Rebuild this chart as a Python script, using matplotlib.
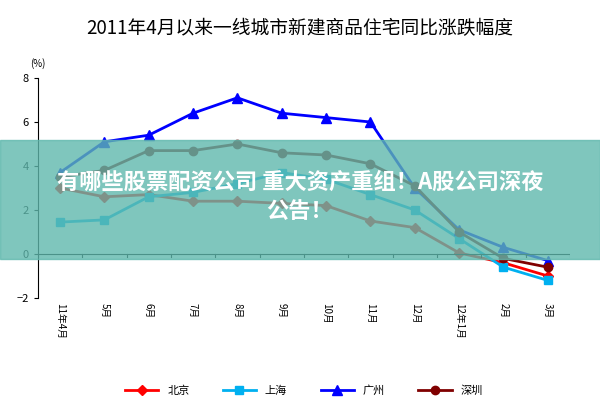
import matplotlib.pyplot as plt
from matplotlib.patches import Rectangle

plt.rcParams["font.family"] = ["Noto Sans CJK SC", "DejaVu Sans"]

months = ["11年4月", "5月", "6月", "7月", "8月", "9月", "10月", "11月", "12月", "12年1月", "2月", "3月"]
beijing = [3.0, 2.6, 2.7, 2.4, 2.4, 2.3, 2.2, 1.5, 1.2, 0.05, -0.4, -1.0]
shanghai = [1.45, 1.55, 2.6, 2.8, 3.2, 3.7, 3.4, 2.7, 2.0, 0.7, -0.6, -1.2]
guangzhou = [3.7, 5.1, 5.4, 6.4, 7.1, 6.4, 6.2, 6.0, 3.0, 1.1, 0.3, -0.3]
shenzhen = [3.5, 3.8, 4.7, 4.7, 5.0, 4.6, 4.5, 4.1, 3.1, 1.0, -0.2, -0.6]

fig = plt.figure(figsize=(6, 4), dpi=100)
ax = fig.add_axes([0.063, 0.255, 0.887, 0.55])
x = range(len(months))
ax.plot(x, beijing, color="#ff0000", marker="D", ms=5, lw=2, label="北京")
ax.plot(x, shanghai, color="#00b0f0", marker="s", ms=6, lw=2, label="上海")
ax.plot(x, guangzhou, color="#0000ff", marker="^", ms=7, lw=2, label="广州")
ax.plot(x, shenzhen, color="#800000", marker="o", ms=6, lw=2, label="深圳")

ax.set_ylim(-2, 8)
ax.set_yticks([-2, 0, 2, 4, 6, 8])
ax.set_xlim(-0.5, 11.5)
ax.set_xticks(list(x))
ax.set_xticklabels(months, rotation=270, fontsize=7)
ax.tick_params(axis="y", labelsize=8, length=3)
ax.tick_params(axis="x", length=0)
for s in ["top", "right", "bottom"]:
    ax.spines[s].set_visible(False)
ax.axhline(0, color="black", lw=0.8)
for i in range(13):
    ax.plot([i - 0.5, i - 0.5], [0, -0.12], color="black", lw=0.8)
ax.text(-0.5, 8.5, "(%)", fontsize=7, ha="center")

fig.suptitle("2011年4月以来一线城市新建商品住宅同比涨跌幅度", y=0.955, fontsize=13.5)
ax.legend(loc="upper center", bbox_to_anchor=(0.5, -0.35), ncol=4, frameon=False, fontsize=8,
          handlelength=3, columnspacing=3)

fig.patches.append(Rectangle((0, 0.352), 1, 0.297, transform=fig.transFigure,
                             color="#5fb8ad", alpha=0.8, zorder=10))
fig.text(0.5, 0.545, "有哪些股票配资公司 重大资产重组！A股公司深夜", ha="center", va="center",
         color="white", fontsize=16, fontweight="bold", zorder=11)
fig.text(0.5, 0.47, "公告！", ha="center", va="center", color="white",
         fontsize=16, fontweight="bold", zorder=11)

fig.savefig("out.png", dpi=100)
